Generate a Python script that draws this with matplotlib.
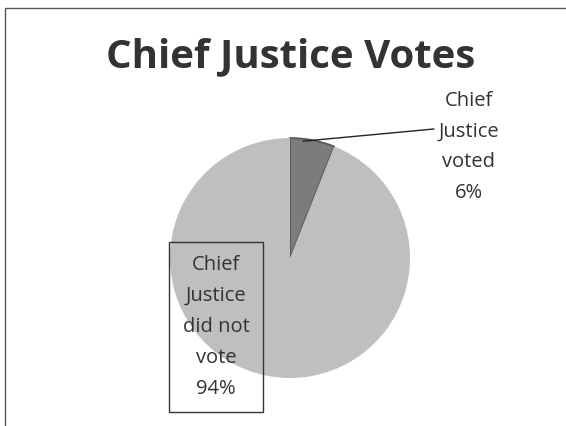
import numpy as np
import matplotlib.pyplot as plt
from matplotlib.patches import Rectangle

# datos del grafico
labels = ['Chief\nJustice\nvoted', 'Chief\nJustice\ndid not\nvote']
shares = [6, 94]
colors = ['#7c7c7c', '#bfbfbf']
title = 'Chief Justice Votes'

W, H = 566, 426
fig = plt.figure(figsize=(W / 100, H / 100), dpi=100)
fig.patch.set_facecolor('white')

# marco del grafico
fig.patches.append(Rectangle((5 / W, -0.1), 1.2, 1.1 - 8 / H, transform=fig.transFigure,
                             fill=False, edgecolor='#555555', linewidth=1.0))

# pie centrado en (290, 258) px, radio 120 px
cx, cy, r = 290, 258, 120
ax = fig.add_axes([(cx - r) / W, (H - cy - r) / H, 2 * r / W, 2 * r / H])
wedges, _ = ax.pie(shares, colors=colors, startangle=90, counterclock=False,
                   wedgeprops=dict(linewidth=0))
wedges[0].set_edgecolor('#555555')
wedges[0].set_linewidth(1.2)
ax.set_xlim(-1, 1)
ax.set_ylim(-1, 1)
ax.set_aspect('equal')
ax.axis('off')

fig.text(291 / W, 1 - 57 / H, title, ha='center', va='center',
         fontsize=29, fontweight='bold', family='Open Sans', color='#333333')

# etiqueta 6%
ang = np.deg2rad(90 - 360 * shares[0] / 100 * 0.3)
ax.annotate('', xy=(np.cos(ang) * 0.98, np.sin(ang) * 0.98), xycoords='data',
            xytext=(434 / W, 1 - 129 / H), textcoords='figure fraction',
            arrowprops=dict(arrowstyle='-', color='#222222', lw=1.0,
                            shrinkA=0, shrinkB=0))
fig.text(469 / W, 1 - 147 / H, f'{labels[0]}\n{shares[0]}%', ha='center', va='center',
         fontsize=14.5, family='Open Sans', color='#333333', linespacing=1.72)

# etiqueta 94% con caja
fig.text(216 / W, 1 - 327 / H, f'{labels[1]}\n{shares[1]}%', ha='center', va='center',
         fontsize=14.5, family='Open Sans', color='#333333', linespacing=1.72,
         bbox=dict(boxstyle='square,pad=0.65', facecolor='none',
                   edgecolor='#333333', linewidth=1.0))

fig.savefig('out.png', dpi=100, facecolor='white')
